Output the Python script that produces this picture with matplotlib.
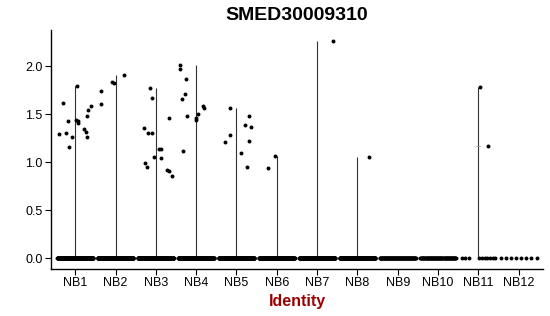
import numpy as np
import matplotlib.pyplot as plt

plt.rcParams['font.family'] = ['Liberation Sans', 'DejaVu Sans']

gene = "SMED30009310"
groups = ["NB1", "NB2", "NB3", "NB4", "NB5", "NB6",
          "NB7", "NB8", "NB9", "NB10", "NB11", "NB12"]

# expressed cells (value)
vals = {
    "NB1": [1.29, 1.62, 1.31, 1.43, 1.155, 1.26, 1.80, 1.445, 1.43, 1.41,
            1.35, 1.315, 1.26, 1.48, 1.55, 1.59],
    "NB2": [1.74, 1.61, 1.84, 1.83, 1.91],
    "NB3": [1.36, 0.99, 0.955, 1.31, 1.775, 1.30, 1.665, 1.06, 1.14, 1.135,
            1.045, 0.915, 0.905, 1.46, 0.86],
    "NB4": [2.015, 1.975, 1.655, 1.12, 1.715, 1.865, 1.48, 1.46, 1.44, 1.50,
            1.59, 1.57],
    "NB5": [1.215, 1.565, 1.285, 1.10, 1.39, 0.95, 1.485, 1.225, 1.37],
    "NB6": [0.945, 1.065],
    "NB7": [2.265],
    "NB8": [1.05],
    "NB9": [],
    "NB10": [],
    "NB11": [1.785, 1.165],
    "NB12": [],
}
# horizontal jitter of those points (as drawn)
jit = {
    "NB1": [-0.41, -0.31, -0.22, -0.18, -0.15, -0.07, 0.04, 0.02, 0.06, 0.08,
            0.21, 0.26, 0.29, 0.30, 0.33, 0.38],
    "NB2": [-0.37, -0.35, -0.08, -0.04, 0.21],
    "NB3": [-0.30, -0.28, -0.23, -0.20, -0.15, -0.10, -0.09, -0.04, 0.09, 0.13,
            0.13, 0.27, 0.32, 0.33, 0.40],
    "NB4": [-0.40, -0.40, -0.36, -0.32, -0.28, -0.24, -0.22, 0.0, 0.0, 0.04,
            0.17, 0.19],
    "NB5": [-0.28, -0.17, -0.15, 0.11, 0.22, 0.26, 0.31, 0.30, 0.35],
    "NB6": [-0.23, -0.04],
    "NB7": [0.39],
    "NB8": [0.29],
    "NB9": [],
    "NB10": [],
    "NB11": [0.05, 0.23],
    "NB12": [],
}
# number of cells with zero expression
n_zero = [300, 300, 300, 300, 280, 200, 240, 220, 90, 70, 10, 8]

fig = plt.figure(figsize=(5.5, 3.16), dpi=100)
ax = fig.add_axes([0.0927, 0.1487, 0.8945, 0.756])

for i, g in enumerate(groups):
    x = i + 1
    v = np.array(vals[g])
    if len(v) > 0:
        # violin collapses to a thin line from 0 up to the max
        ax.vlines(x, 0, v.max(), color='#333333', lw=0.8, zorder=1)
    if g == "NB11":
        ax.hlines(1.165, x - 0.05, x + 0.05, color='#999999', lw=0.6, zorder=1)
    n = n_zero[i]
    if g == "NB11":
        zx = np.concatenate([np.linspace(-0.42, -0.24, 3), np.linspace(0.02, 0.42, 7)])
    else:
        zx = np.linspace(-0.44, 0.44, n)
    ax.scatter(x + zx, np.zeros(len(zx)), s=8, c='black', linewidths=0, zorder=2)
    if len(v) > 0:
        ax.scatter(x + np.array(jit[g]), v, s=8, c='black', linewidths=0, zorder=3)

ax.set_xlim(0.4, 12.6)
ax.set_ylim(-0.113, 2.378)
ax.set_xticks(range(1, len(groups) + 1))
ax.set_xticklabels(groups)
ax.set_yticks([0, 0.5, 1.0, 1.5, 2.0])
ax.set_yticklabels(["0.0", "0.5", "1.0", "1.5", "2.0"])
ax.tick_params(labelsize=9, length=4, width=0.8, colors='black', pad=2)
for s in ['top', 'right']:
    ax.spines[s].set_visible(False)
for s in ['left', 'bottom']:
    ax.spines[s].set_linewidth(1.0)

ax.set_xlabel("Identity", fontsize=11.5, fontweight='bold', color='#9B0000', labelpad=3)
ax.set_title(gene, fontsize=14, fontweight='bold', pad=7)

fig.savefig("out.png", dpi=100)
